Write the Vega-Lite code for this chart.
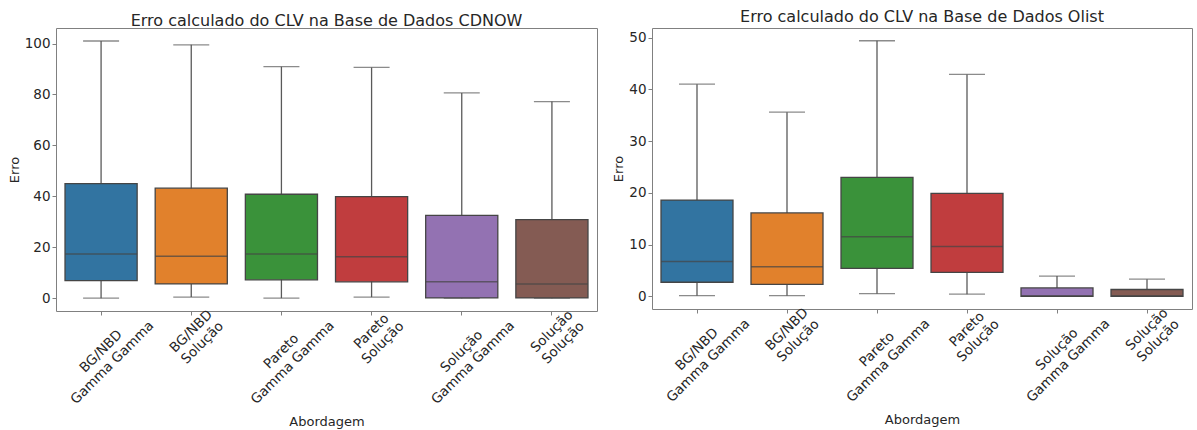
{
  "$schema": "https://vega.github.io/schema/vega-lite/v6.json",
  "padding": {"left": 7, "top": 8, "right": 9, "bottom": 0},
  "background": "white",
  "spacing": 14,
  "config": {
    "font": "DejaVu Sans",
    "view": {"stroke": "#808080", "strokeWidth": 1},
    "axis": {
      "labelFont": "DejaVu Sans", "titleFont": "DejaVu Sans",
      "labelFontSize": 13.5, "titleFontSize": 13, "titleFontWeight": "normal",
      "labelColor": "#262626", "titleColor": "#262626",
      "tickColor": "#808080", "tickSize": 4, "domain": false, "grid": false, "titlePadding": 3
    },
    "axisX": {"titlePadding": 9},
    "title": {"font": "DejaVu Sans", "fontSize": 16, "fontWeight": "normal", "color": "#262626"}
  },
  "datasets": {
    "cdnow": [
      {"abordagem": "BG/NBD|Gamma Gamma", "min": 0, "q1": 6.9, "median": 17.3, "q3": 45.0, "max": 101.0},
      {"abordagem": "BG/NBD|Solução", "min": 0.4, "q1": 5.6, "median": 16.5, "q3": 43.2, "max": 99.5},
      {"abordagem": "Pareto|Gamma Gamma", "min": 0, "q1": 7.2, "median": 17.3, "q3": 40.8, "max": 90.9},
      {"abordagem": "Pareto|Solução", "min": 0.4, "q1": 6.4, "median": 16.3, "q3": 39.9, "max": 90.6},
      {"abordagem": "Solução|Gamma Gamma", "min": 0, "q1": 0.1, "median": 6.4, "q3": 32.5, "max": 80.6},
      {"abordagem": "Solução|Solução", "min": 0, "q1": 0.1, "median": 5.6, "q3": 30.8, "max": 77.2}
    ],
    "olist": [
      {"abordagem": "BG/NBD|Gamma Gamma", "min": 0.1, "q1": 2.7, "median": 6.7, "q3": 18.6, "max": 41.0},
      {"abordagem": "BG/NBD|Solução", "min": 0.1, "q1": 2.3, "median": 5.7, "q3": 16.1, "max": 35.6},
      {"abordagem": "Pareto|Gamma Gamma", "min": 0.5, "q1": 5.4, "median": 11.5, "q3": 23.0, "max": 49.4},
      {"abordagem": "Pareto|Solução", "min": 0.4, "q1": 4.6, "median": 9.6, "q3": 19.9, "max": 42.9},
      {"abordagem": "Solução|Gamma Gamma", "min": 0, "q1": 0, "median": 0.05, "q3": 1.6, "max": 3.9},
      {"abordagem": "Solução|Solução", "min": 0, "q1": 0, "median": 0.05, "q3": 1.3, "max": 3.3}
    ]
  },
  "hconcat": [
    {
      "width": 541, "height": 283,
      "title": {"text": "Erro calculado do CLV na Base de Dados CDNOW", "offset": -1},
      "data": {"name": "cdnow"},
      "encoding": {
        "x": {
          "field": "abordagem", "type": "nominal", "sort": null,
          "scale": {"paddingInner": 0.2, "paddingOuter": 0.1},
          "axis": {
            "title": "Abordagem", "labelAngle": -45, "labelAlign": "center", "labelBaseline": "middle",
            "labelLineHeight": 16,
            "labelExpr": "split(datum.label, '|')",
            "labelPadding": {"condition": {"test": "indexof(datum.value, 'Gamma') >= 0", "value": 36}, "value": 16}
          }
        }
      },
      "layer": [
        {"mark": {"type": "rule", "color": "#5a5a5a", "strokeWidth": 1.3},
         "encoding": {"y": {"field": "min", "type": "quantitative", "title": "Erro", "scale": {"domain": [-5.05, 106.1], "nice": false, "zero": false}, "axis": {"values": [0, 20, 40, 60, 80, 100]}}, "y2": {"field": "max"}}},
        {"mark": {"type": "tick", "color": "#5a5a5a", "size": 36, "thickness": 1.3},
         "encoding": {"y": {"field": "min", "type": "quantitative", "title": "Erro"}}},
        {"mark": {"type": "tick", "color": "#5a5a5a", "size": 36, "thickness": 1.3},
         "encoding": {"y": {"field": "max", "type": "quantitative", "title": "Erro"}}},
        {"mark": {"type": "bar", "stroke": "#454545", "strokeWidth": 1.3},
         "encoding": {"y": {"field": "q1", "type": "quantitative", "title": "Erro"}, "y2": {"field": "q3"},
           "color": {"field": "abordagem", "type": "nominal", "sort": null, "legend": null,
             "scale": {"range": ["#3274a1", "#e1812c", "#3a923a", "#c03d3e", "#9372b2", "#845b53"]}}}},
        {"mark": {"type": "tick", "color": "#454545", "size": 72, "thickness": 1.5},
         "encoding": {"y": {"field": "median", "type": "quantitative", "title": "Erro"}}}
      ]
    },
    {
      "width": 540, "height": 281,
      "title": {"text": "Erro calculado do CLV na Base de Dados Olist", "offset": 3},
      "data": {"name": "olist"},
      "encoding": {
        "x": {
          "field": "abordagem", "type": "nominal", "sort": null,
          "scale": {"paddingInner": 0.2, "paddingOuter": 0.1},
          "axis": {
            "title": "Abordagem", "labelAngle": -45, "labelAlign": "center", "labelBaseline": "middle",
            "labelLineHeight": 16,
            "labelExpr": "split(datum.label, '|')",
            "labelPadding": {"condition": {"test": "indexof(datum.value, 'Gamma') >= 0", "value": 36}, "value": 16}
          }
        }
      },
      "layer": [
        {"mark": {"type": "rule", "color": "#5a5a5a", "strokeWidth": 1.3},
         "encoding": {"y": {"field": "min", "type": "quantitative", "title": "Erro", "scale": {"domain": [-2.47, 51.87], "nice": false, "zero": false}, "axis": {"values": [0, 10, 20, 30, 40, 50]}}, "y2": {"field": "max"}}},
        {"mark": {"type": "tick", "color": "#5a5a5a", "size": 36, "thickness": 1.3},
         "encoding": {"y": {"field": "min", "type": "quantitative", "title": "Erro"}}},
        {"mark": {"type": "tick", "color": "#5a5a5a", "size": 36, "thickness": 1.3},
         "encoding": {"y": {"field": "max", "type": "quantitative", "title": "Erro"}}},
        {"mark": {"type": "bar", "stroke": "#454545", "strokeWidth": 1.3},
         "encoding": {"y": {"field": "q1", "type": "quantitative", "title": "Erro"}, "y2": {"field": "q3"},
           "color": {"field": "abordagem", "type": "nominal", "sort": null, "legend": null,
             "scale": {"range": ["#3274a1", "#e1812c", "#3a923a", "#c03d3e", "#9372b2", "#845b53"]}}}},
        {"mark": {"type": "tick", "color": "#454545", "size": 72, "thickness": 1.5},
         "encoding": {"y": {"field": "median", "type": "quantitative", "title": "Erro"}}}
      ]
    }
  ]
}
